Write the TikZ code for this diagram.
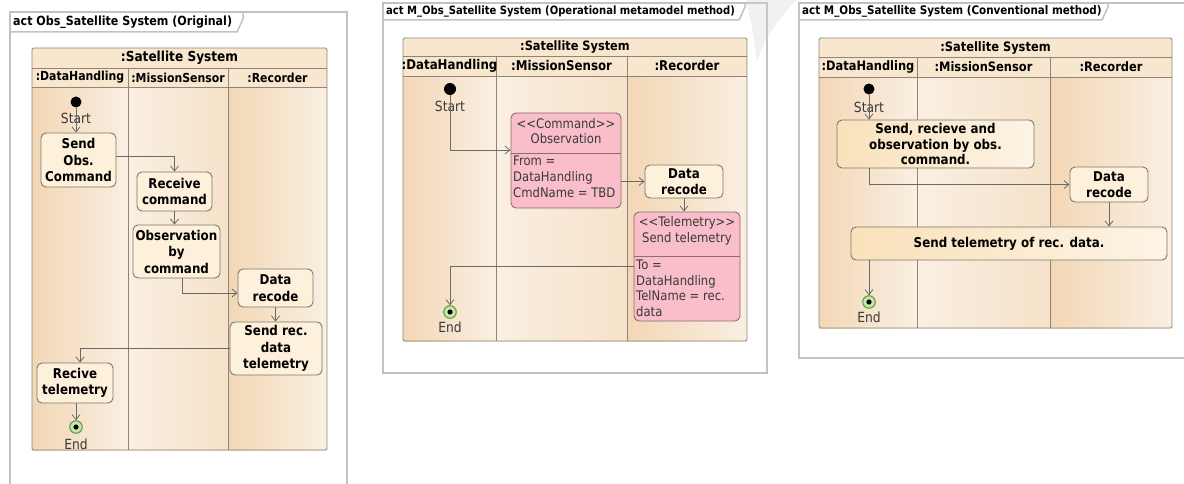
\documentclass[tikz,border=0pt]{standalone}
\usepackage{fontspec}
\setmainfont{DejaVu Sans}[FakeStretch=0.88]
\usetikzlibrary{arrows.meta,calc}

\definecolor{framegray}{HTML}{C2C2C2}
\definecolor{partline}{HTML}{8E8577}
\definecolor{hdrfill}{HTML}{F8E6CF}
\definecolor{laneA}{HTML}{F2D7B5}
\definecolor{laneB}{HTML}{FAEFE2}
\definecolor{boxfill}{HTML}{FDF1DC}
\definecolor{boxline}{HTML}{7D7669}
\definecolor{bigA}{HTML}{F9E1BA}
\definecolor{bigB}{HTML}{FDF4E5}
\definecolor{pinkfill}{HTML}{F9BECA}
\definecolor{pinkline}{HTML}{8D6B72}
\definecolor{flowgray}{HTML}{6A6A6A}
\definecolor{endfill}{HTML}{C9E6A5}
\definecolor{endline}{HTML}{5F9B49}
\definecolor{txtgray}{HTML}{3A3A3A}

\newcommand\fsz[2]{\fontsize{#1}{#2}\selectfont}

% swimlane partition: #1 prefix, #2 left, #3 top, #4 right, #5 title row bottom,
% #6 header row bottom, #7 first divider, #8 second divider, #9 bottom
\newcommand\partition[9]{%
  \shade[left color=laneA, right color=laneB] (#2,#6) rectangle (#7,#9);
  \shade[left color=laneB, right color=laneA!55!laneB] (#7,#6) rectangle (#8,#9);
  \shade[left color=laneA, right color=laneB] (#8,#6) rectangle (#4,#9);
  \fill[hdrfill] (#2,#3) rectangle (#4,#6);
  \draw[part] (#2,#5) -- (#4,#5) (#2,#6) -- (#4,#6) (#7,#5) -- (#7,#9) (#8,#5) -- (#8,#9);
  \draw[part, rounded corners=1.5pt] (#2,#3) rectangle (#4,#9);
  \node[font=\ptfont, inner sep=0pt] (#1sys) at ({(#2+#4)/2},{(#3+#5)/2}) {:Satellite System};
  \node[font=\lnfont, inner sep=0pt] (#1dh) at ({(#2+#7)/2},{(#5+#6)/2}) {:DataHandling};
  \node[font=\lnfont, inner sep=0pt] (#1ms) at ({(#7+#8)/2},{(#5+#6)/2}) {:MissionSensor};
  \node[font=\lnfont, inner sep=0pt] (#1rc) at ({(#8+#4)/2},{(#5+#6)/2}) {:Recorder};
}

% activity frame with its name tab: #1 name, #2 left, #3 top, #4 right, #5 bottom,
% #6 tab right, #7 tab bottom, #8 title size, #9 title
\newcommand\actframe[9]{%
  \draw[frame] (#2,#3) rectangle (#4,#5);
  \draw[frame] (#2,#7) -- ({#6-6},#7) -- (#6,{#7-13}) -- (#6,#3);
  \node[anchor=west, inner sep=0pt, font=\bfseries\fsz{#8}{13}] (#1) at ({#2+3},{(#3+#7)/2}) {#9};
}

\tikzset{
  frame/.style={draw=framegray, line width=1.5pt},
  part/.style={draw=partline, line width=0.9pt},
  action/.style={draw=boxline, fill=boxfill, rounded corners=5pt, line width=0.9pt,
    align=center, inner sep=0pt, font=\bfseries\fsz{13.5}{16.5}},
  bigaction/.style={action, left color=bigA, right color=bigB, font=\bfseries\fsz{13.5}{15.5}},
  pinkbox/.style={draw=pinkline, fill=pinkfill, rounded corners=5pt, line width=0.9pt, inner sep=0pt},
  pinktext/.style={text=txtgray, inner sep=0pt, font=\fsz{13.2}{15.7}},
  flow/.style={draw=flowgray, line width=0.8pt, -{Straight Barb[length=5pt,width=8pt]}},
  initial/.style={circle, fill=black, inner sep=0pt, minimum size=11pt},
  final/.style={circle, draw=endline, fill=endfill, line width=1.1pt, inner sep=0pt,
    minimum size=12.5pt,
    path picture={\fill[black] (path picture bounding box.center) circle (2.6pt);}},
  lbl/.style={text=txtgray, inner sep=0pt, font=\fsz{14}{16}},
}

\begin{document}
\begin{tikzpicture}[x=1pt, y=-1pt]
\useasboundingbox (0,0) rectangle (1184,484);
\clip (0,0) rectangle (1184,484);
\fill[white] (0,0) rectangle (1184,484);

% ---------- frames ----------
\actframe{f1}{10}{12}{347}{492}{243}{32}{12.6}{act Obs\_Satellite System (Original)}
\actframe{f2}{383}{3}{767}{373}{745}{20}{11.4}{act M\_Obs\_Satellite System (Operational metamodel method)}
\actframe{f3}{799}{3}{1192}{358}{1108}{20}{11.8}{act M\_Obs\_Satellite System (Conventional method)}

% ---------- partitions ----------
\def\ptfont{\bfseries\fsz{13.8}{16}}
\def\lnfont{\bfseries\fsz{12.4}{14}}
\partition{L}{32}{48}{327}{68}{87}{128}{228}{450}
\def\ptfont{\bfseries\fsz{12.9}{15}}
\def\lnfont{\bfseries\fsz{13.4}{15}}
\partition{M}{403}{38}{747}{56}{76}{496}{627}{341}
\def\ptfont{\bfseries\fsz{13}{15}}
\def\lnfont{\bfseries\fsz{13}{15}}
\partition{R}{819}{38}{1172}{57}{77}{917}{1050}{328}

% ---------- original ----------
\node[initial] (s1) at (76,102) {};
\node[lbl] (s1t) at (76,118) {Start};
\node[action, minimum width=75pt, minimum height=54pt] (a1) at (78.5,160) {Send\\Obs.\\Command};
\node[action, minimum width=75pt, minimum height=39pt] (a2) at (174.5,191.5) {Receive\\command};
\node[action, minimum width=87pt, minimum height=53pt] (a3) at (176.5,251.5) {Observation\\by\\command};
\node[action, minimum width=75pt, minimum height=38pt] (a4) at (275.5,288) {Data\\recode};
\node[action, minimum width=92pt, minimum height=53pt] (a5) at (276,348.5) {Send rec.\\data\\telemetry};
\node[action, minimum width=76pt, minimum height=40pt] (a6) at (75,383) {Recive\\telemetry};
\node[final] (e1) at (76,427) {};
\node[lbl] (e1t) at (76,444) {End};

\draw[flow] (s1) -- (s1 |- a1.north);
\draw[flow] ([yshift=4pt]a1.east) -| (a2.north);
\draw[flow] (a2.south) -- (a2.south |- a3.north);
\draw[flow] ([xshift=5.5pt]a3.south) |- ([yshift=-5pt]a4.west);
\draw[flow] (a4.south) -- (a4.south |- a5.north);
\draw[flow] (a5.west) -| ([xshift=5pt]a6.north);
\draw[flow] (a6.south -| e1) -- (e1.north);

% ---------- operational metamodel method ----------
\node[initial, minimum size=12pt] (s2) at (450,89) {};
\node[lbl] (s2t) at (450,106) {Start};
\node[pinkbox, minimum width=110pt, minimum height=95pt] (p1) at (566,160.5) {};
\draw[draw=pinkline, line width=0.9pt] (p1.west |- 0,153) -- (p1.east |- 0,153);
\node[pinktext, align=center] (p1h) at (566,131) {{<}{<}Command{>}{>}\\Observation};
\node[pinktext, align=left, anchor=north west] (p1a) at (513,156) {From =\\DataHandling\\CmdName = TBD};
\node[action, minimum width=78pt, minimum height=33pt] (m1) at (684,181.5) {Data\\recode};
\node[pinkbox, minimum width=106pt, minimum height=109pt] (p2) at (687,266.5) {};
\draw[draw=pinkline, line width=0.9pt] (p2.west |- 0,256) -- (p2.east |- 0,256);
\node[pinktext, align=center] (p2h) at (687,231) {{<}{<}Telemetry{>}{>}\\Send telemetry};
\node[pinktext, align=left, anchor=north west] (p2a) at (636,259.5) {To =\\DataHandling\\TelName = rec.\\data};
\node[final] (e2) at (450,312) {};
\node[lbl] (e2t) at (450,327) {End};

\draw[flow] (s2) |- ([yshift=10.5pt]p1.west);
\draw[flow] (m1.west -| p1.east) -- (m1.west);
\draw[flow] (m1.south) -- (m1.south |- p2.north);
\draw[flow] (p2.west) -| (e2.north);

% ---------- conventional method ----------
\node[initial] (s3) at (869,89) {};
\node[lbl] (s3t) at (869,107) {Start};
\node[bigaction, minimum width=197pt, minimum height=48pt] (r1) at (935.5,144) {Send, recieve and\\observation by obs.\\command.};
\node[action, minimum width=78pt, minimum height=35pt] (r2) at (1109,184.5) {Data\\recode};
\node[bigaction, minimum width=316pt, minimum height=33pt] (r3) at (1009,243.5) {Send telemetry of rec. data.};
\node[final] (e3) at (869,302) {};
\node[lbl] (e3t) at (869,317) {End};

\draw[flow] (s3) -- (s3 |- r1.north);
\draw[flow] (r1.south -| s3) |- (r2.west);
\draw[flow] (r2.south) -- (r2.south |- r3.north);
\draw[flow] (r3.south -| e3) -- (e3.north);

% faint swoosh across the top
\fill[gray!35, opacity=0.3] (746,0) .. controls (752,25) and (755,45) .. (757,62)
  .. controls (764,40) and (778,18) .. (797,0) -- cycle;
\end{tikzpicture}
\end{document}
